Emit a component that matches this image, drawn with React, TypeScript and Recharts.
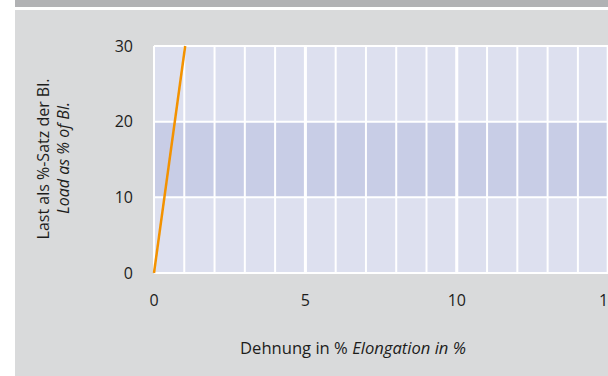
import React from 'react';
import { ComposedChart, Line, XAxis, YAxis, CartesianGrid, ReferenceLine } from 'recharts';

const elongation = [0, 1.03];
const load = [0, 30];
const xTicks = [0, 1, 2, 3, 4, 5, 6, 7, 8, 9, 10, 11, 12, 13, 14, 15, 16, 17, 18];
const yTicks = [0, 10, 20, 30];
const majorX = [5, 10, 15];
const xTitleDe = 'Dehnung in % ';
const xTitleEn = 'Elongation in %';
const yTitleDe = 'Last als %-Satz der Bl.';
const yTitleEn = 'Load as % of Bl.';

const data = elongation.map((x, i) => ({ x, y: load[i] }));

const FONT = '"Open Sans", "Noto Sans", sans-serif';
const TEXT = '#1d1d1b';

const YTitle = () => (
  <g>
    <text x={43} y={159} transform="rotate(-90 43 159)" textAnchor="middle" dominantBaseline="central"
      fontFamily={FONT} fontSize={16} fill={TEXT}>{yTitleDe}</text>
    <text x={63} y={158} transform="rotate(-90 63 158)" textAnchor="middle" dominantBaseline="central"
      fontFamily={FONT} fontSize={16} fontStyle="italic" fill={TEXT}>{yTitleEn}</text>
  </g>
);

const XTitle = () => (
  <text x={353} y={347} textAnchor="middle" dominantBaseline="central" fontFamily={FONT} fontSize={16.6} fill={TEXT}>
    <tspan>{xTitleDe}</tspan>
    <tspan fontStyle="italic">{xTitleEn}</tspan>
  </text>
);

export default function App() {
  return (
    <div style={{ position: 'absolute', left: 0, top: 0, width: 608, height: 376, overflow: 'hidden', background: '#ffffff' }}>
      <div style={{ position: 'absolute', left: 15, top: 0, width: 593, height: 7, background: '#b1b2b4' }} />
      <div style={{ position: 'absolute', left: 15, top: 10, width: 593, height: 366, background: '#d9dadb' }} />
      <div style={{ position: 'absolute', left: 0, top: 0 }}>
        <ComposedChart width={699} height={376} data={data} margin={{ top: 46, right: 0, bottom: 73, left: 94 }}>
          <CartesianGrid stroke="#ffffff" strokeWidth={2} horizontalFill={['#dde0ef', '#c8cde6', '#dde0ef']} fillOpacity={1} />
          <XAxis type="number" dataKey="x" domain={[0, 18]} ticks={xTicks} interval={0}
            tickFormatter={(v: number) => (v % 5 === 0 ? String(v) : '')}
            axisLine={false} tickLine={false} tickMargin={16} height={30}
            tick={{ fontFamily: FONT, fontSize: 16, fill: TEXT }}
            label={{ content: () => <XTitle /> }} />
          <YAxis type="number" domain={[0, 30]} ticks={yTicks} width={60}
            axisLine={false} tickLine={false} tickMargin={15}
            tick={{ fontFamily: FONT, fontSize: 16, fill: TEXT }}
            label={{ content: () => <YTitle /> }} />
          {majorX.map((v) => (
            <ReferenceLine key={v} x={v} stroke="#ffffff" strokeWidth={3} />
          ))}
          <Line type="linear" dataKey="y" stroke="#f39200" strokeWidth={2.5} dot={false} isAnimationActive={false} />
        </ComposedChart>
      </div>
    </div>
  );
}
